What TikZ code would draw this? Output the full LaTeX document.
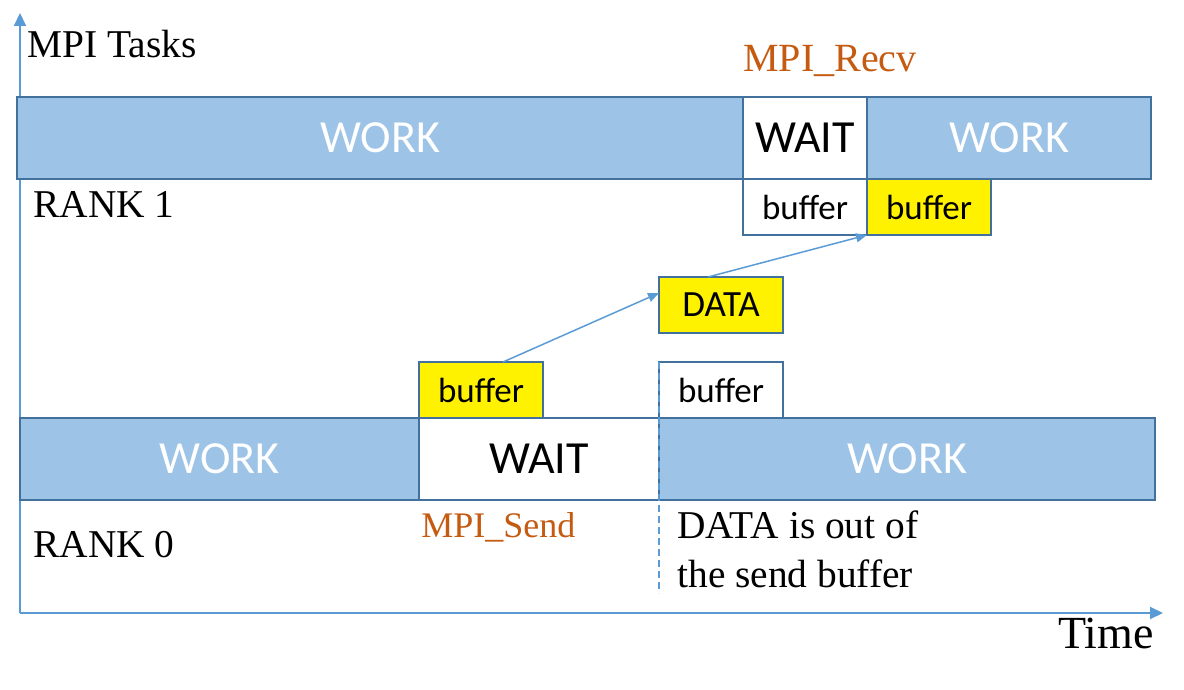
\documentclass[tikz,border=0pt]{standalone}
\usepackage{fontspec}
\setmainfont{Liberation Serif}
\newfontfamily\calibri{Carlito}
\usepackage{tikz}
\usetikzlibrary{
	positioning,
	arrows.meta
}
\definecolor{barfill}{HTML}{9DC3E6}
\definecolor{barline}{HTML}{41719C}
\definecolor{axisblue}{HTML}{5B9BD5}
\definecolor{callorange}{HTML}{C55A11}

\tikzset{
	phase/.style={draw=barline,line width=1pt,inner sep=0pt,outer sep=0pt,minimum height=41pt,font=\calibri\fontsize{23}{27}\selectfont},
	work/.style={phase,fill=barfill,text=white},
	wait/.style={phase,fill=white,text=black},
	buf/.style={draw=barline,line width=1pt,inner sep=0pt,outer sep=0pt,minimum width=62pt,minimum height=28pt,font=\calibri\fontsize{17.5}{21}\selectfont},
	tag/.style={inner sep=0pt,anchor=base west,font=\fontsize{19.7}{24}\selectfont},
	call/.style={tag,text=callorange},
	axisline/.style={draw=axisblue,line width=1pt,-{Triangle[length=6.5pt,width=6pt]}},
	flow/.style={draw=axisblue,line width=0.75pt,-{Triangle[length=5.5pt,width=4.5pt]}}
}

\begin{document}
\begin{tikzpicture}[x=0.5pt,y=-0.5pt]
		\useasboundingbox (0,0) rectangle (1184,690);

		\coordinate (origin) at (20,613);
		\coordinate (ytip)   at (20,13);
		\coordinate (xtip)   at (1163,613);
		\coordinate (dashend) at (659,593);

		\draw[axisline] (origin) -- (ytip);
		\draw[axisline] (origin) -- (xtip);

		\node[work,minimum width=363pt,anchor=north west] (work1a) at (17,97) {WORK};
		\node[wait,minimum width=62pt,right=0pt of work1a]  (wait1)  {WAIT};
		\node[work,minimum width=142pt,right=0pt of wait1]  (work1b) {WORK};
		\node[buf,anchor=north east]                        (buf1w) at (wait1.south east) {buffer};
		\node[buf,fill=yellow,right=0pt of buf1w]           (buf1y) {buffer};

		\node[buf,fill=yellow,font=\calibri\fontsize{18.5}{22}\selectfont,anchor=north west] (data) at (659,277) {DATA};

		\node[work,minimum width=199.5pt,anchor=north west] (work0a) at (20,418) {WORK};
		\node[wait,minimum width=120pt,right=0pt of work0a] (wait0)  {WAIT};
		\node[work,minimum width=248pt,right=0pt of wait0]  (work0b) {WORK};
		\node[buf,fill=yellow,anchor=south west]            (buf0y) at (wait0.north west) {buffer};
		\node[buf,anchor=south west]                        (buf0w) at (wait0.north east) {buffer};

		\draw[flow] ([xshift=11pt]buf0y.north) -- ([yshift=6pt]data.west);
		\draw[flow] ([xshift=-6.5pt]data.north) -- (buf1y.south west);
		\draw[axisblue,line width=0.75pt,dash pattern=on 3.5pt off 2pt] (buf0w.north west) -- (buf0w.north west |- dashend);

		\node[tag] (tasks) at (27,58)  {MPI Tasks};
		\node[tag] (rank1) at (33,218) {RANK 1};
		\node[tag] (rank0) at (33,557) {RANK 0};
		\node[call,font=\fontsize{20}{24}\selectfont] (recv) at (743,72)  {MPI\_Recv};
		\node[call,font=\fontsize{18}{22}\selectfont] (send) at (421,537) {MPI\_Send};
		\node[tag] (note1) at (677,538) {DATA is out of};
		\node[tag] (note2) at ([yshift=-24.5pt]note1.base west) {the send buffer};
		\node[tag,font=\fontsize{23}{27}\selectfont] (time) at (1058,648) {Time};
	\end{tikzpicture}
\end{document}
